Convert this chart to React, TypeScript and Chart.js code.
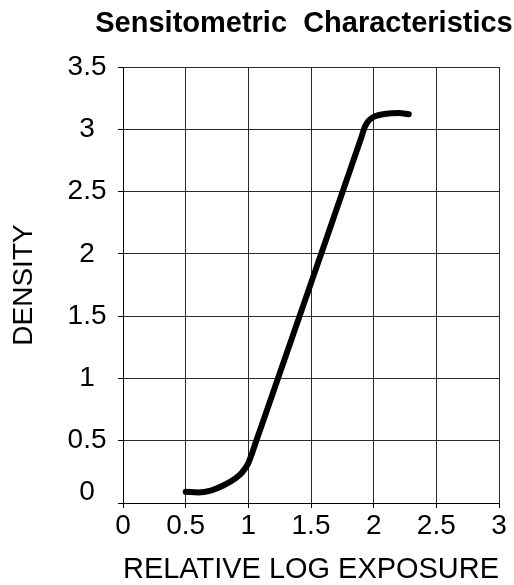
import React, { useEffect, useRef } from 'react';
import { Chart, registerables } from 'chart.js';

Chart.register(...registerables);

const TITLE = 'Sensitometric  Characteristics';
const X_TITLE = 'RELATIVE LOG EXPOSURE';
const Y_TITLE = 'DENSITY';

// Relative log exposure (x) and density (y) of the characteristic curve
const logExposure = [0.5, 0.6, 0.7, 0.8, 0.9, 0.95, 1.0, 1.03, 1.06, 1.1, 1.5, 1.9, 1.93, 1.96, 2.0, 2.1, 2.2, 2.28];
const density = [0.09, 0.085, 0.1, 0.14, 0.2, 0.245, 0.32, 0.4, 0.49, 0.605, 1.765, 2.93, 3.02, 3.07, 3.1, 3.125, 3.13, 3.12];

const X_MIN = 0;
const X_MAX = 3;
const X_STEP = 0.5;
const Y_MIN = 0;
const Y_MAX = 3.5;
const Y_STEP = 0.5;

const FONT = '"Liberation Sans", Arial, Helvetica, sans-serif';

const fmt = (value: any) => String(Number(Number(value).toFixed(2)));

const titlePlugin = {
  id: 'centeredTitle',
  afterDraw(chart: any) {
    const { ctx, chartArea } = chart;
    ctx.save();
    ctx.font = `bold 29px ${FONT}`;
    ctx.fillStyle = '#000';
    ctx.textAlign = 'center';
    ctx.textBaseline = 'alphabetic';
    ctx.fillText(TITLE, (chartArea.left + chartArea.right) / 2 - 7, 32);
    ctx.restore();
  },
};

export default function App() {
  const canvasRef = useRef<HTMLCanvasElement | null>(null);

  useEffect(() => {
    if (!canvasRef.current) return;
    const points = logExposure.map((x, i) => ({ x, y: density[i] }));
    const chart = new Chart(canvasRef.current, {
      type: 'line',
      data: {
        datasets: [
          {
            data: points,
            borderColor: '#000',
            borderWidth: 6,
            pointRadius: 0,
            fill: false,
            cubicInterpolationMode: 'monotone',
            borderCapStyle: 'round',
            borderJoinStyle: 'round',
          },
        ],
      },
      options: {
        responsive: false,
        animation: false,
        layout: { padding: { top: 67, right: 15, left: 0, bottom: 0 } },
        plugins: {
          legend: { display: false },
          title: { display: false },
          tooltip: { enabled: false },
        },
        scales: {
          x: {
            type: 'linear',
            min: X_MIN,
            max: X_MAX,
            afterFit: (scale: any) => {
              scale.height = 82;
            },
            ticks: {
              stepSize: X_STEP,
              color: '#000',
              padding: 1,
              maxRotation: 0,
              font: { family: FONT, size: 28, lineHeight: 1.2 },
              callback: (value: any) => fmt(value),
            },
            grid: { color: '#2a2a2a', lineWidth: 1, tickLength: 5, tickColor: '#000' },
            border: { color: '#000', width: 1 },
            title: {
              display: true,
              text: X_TITLE,
              color: '#000',
              padding: { top: 0, bottom: 0 },
              font: { family: FONT, size: 30, lineHeight: 1 },
            },
          },
          y: {
            type: 'linear',
            min: Y_MIN,
            max: Y_MAX,
            afterFit: (scale: any) => {
              scale.width = 123;
            },
            ticks: {
              stepSize: Y_STEP,
              color: '#000',
              padding: 11.5,
              crossAlign: 'center',
              font: { family: FONT, size: 28, lineHeight: 0.8 },
              callback: (value: any) => (Number(value) === 0 ? ['0', ''] : fmt(value)),
            },
            grid: { color: '#2a2a2a', lineWidth: 1, tickLength: 5, tickColor: '#000' },
            border: { color: '#000', width: 1 },
            title: {
              display: true,
              text: Y_TITLE,
              color: '#000',
              padding: { top: 10, bottom: 0 },
              font: { family: FONT, size: 28, lineHeight: 1 },
            },
          },
        },
      },
      plugins: [titlePlugin],
    } as any);
    return () => chart.destroy();
  }, []);

  return (
    <div style={{ position: 'absolute', left: 0, top: 0, width: 514, height: 585, background: '#fff' }}>
      <canvas ref={canvasRef} width={514} height={585} />
    </div>
  );
}
